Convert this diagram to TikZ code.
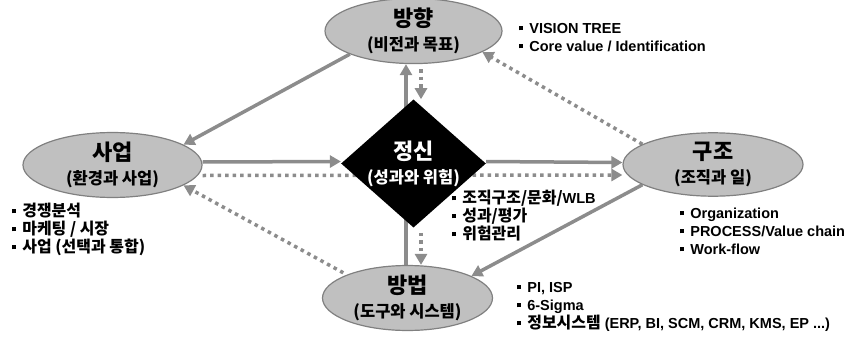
\documentclass[tikz,border=0pt]{standalone}
\usepackage{fontspec}
\setmainfont{Liberation Sans}
\newfontfamily\kr[Scale=1.1]{Noto Sans CJK KR}
\usepackage{tikz}
\usetikzlibrary{arrows.meta,shapes.geometric,backgrounds}
\definecolor{ovalfill}{HTML}{C0C0C0}
\definecolor{ovaledge}{HTML}{808080}
\definecolor{linegray}{HTML}{8C8C8C}
\newcommand{\headtxt}[1]{{\fontsize{20}{22}\selectfont\bfseries #1}}
\newcommand{\subtxt}[1]{{\fontsize{15}{17}\selectfont\bfseries #1}}
\newcommand{\sq}{\rule[0.22em]{0.28em}{0.28em}\hspace{0.42em}}
\newcommand{\tdots}{...}

\begin{document}
\begin{tikzpicture}[
    x=1pt, y=-1pt,
    oval/.style={ellipse, draw=ovaledge, line width=1.2pt, fill=ovalfill, inner sep=0pt,
      minimum height=56pt, align=center, font=\kr\fontsize{15}{24}\selectfont},
    gem/.style={diamond, fill=black, text=white, inner sep=0pt, shape aspect=1.13,
      minimum width=143pt, minimum height=127pt, align=center, font=\kr\fontsize{15}{24}\selectfont},
    listline/.style={anchor=west, inner sep=0pt, font=\bfseries\fontsize{14.5}{18}\selectfont,
      text height=10pt, text depth=3pt},
    solidarr/.style={draw=linegray, line width=3.5pt, -{Triangle[length=11pt,width=12pt]}},
    dotarr/.style={solidarr, dash pattern=on 3.5pt off 4pt}
  ]
  \useasboundingbox (0,0) rectangle (854,340);

  % four ovals and the core
  \foreach \n/\x/\y/\w/\t/\s in {bh/413.5/31/177pt/방향/비전과 목표,
      sa/112.5/165/179pt/사업/환경과 사업,
      gj/713/164.5/180pt/구조/조직과 일,
      bb/407.5/298/170pt/방법/도구와 시스템}
    \node[oval, minimum width=\w] (\n) at (\x,\y) {\headtxt{\t}\\\subtxt{(\s)}};
  \node[gem] (core) at (413.5,163.5) {\headtxt{정신}\\\subtxt{(성과와 위험)}};

  % connectors behind
  \begin{scope}[on background layer]
    \draw[solidarr] (bh.200) -- (sa.16);
    \draw[solidarr] ([yshift=3pt]sa.east) -- ([yshift=2pt]core.west);
    \draw[dotarr] ([yshift=-10.5pt]sa.east) -- ([yshift=-10.5pt]gj.west);
    \draw[solidarr] ([yshift=2pt]core.east) -- ([yshift=2pt]gj.west);
    \draw[dotarr] (gj.164) -- (bh.343);
    \draw[solidarr] (gj.196) -- (bb.19);
    \draw[dotarr, shorten <=4pt] (bb.159) -- (sa.344);
    \draw[solidarr] ([xshift=-1.5pt]bb.north) -- ([xshift=-7.5pt]bh.south);
    \draw[dotarr, shorten <=5pt] ([xshift=7.5pt]bh.south) -- ([xshift=7.5pt]core.north);
    \draw[dotarr, shorten <=5pt] ([xshift=7.5pt]core.south) -- ([xshift=13.5pt]bb.north);
  \end{scope}

  % bullet lists
  \foreach \t [count=\i from 0] in {\sq VISION TREE, \sq Core value / Identification}
    \node[listline] (vis\i) at (519,{30+18*\i}) {\t};
  \foreach \t [count=\i from 0] in {\sq{\kr 경쟁분석}, \sq{\kr 마케팅 / 시장}, \sq{\kr 사업 (선택과 통합)}}
    \node[listline] (biz\i) at (12,{213+18*\i}) {\t};
  \foreach \t [count=\i from 0] in {\sq{\kr 조직구조/문화/}WLB, \sq{\kr 성과/평가}, \sq{\kr 위험관리}}
    \node[listline] (mind\i) at (452,{200+18*\i}) {\t};
  \foreach \t [count=\i from 0] in {\sq Organization, \sq PROCESS/Value chain, \sq Work-flow}
    \node[listline] (org\i) at (680,{215+18*\i}) {\t};
  \foreach \t [count=\i from 0] in {{\sq PI, ISP}, \sq 6-Sigma,
      {\sq{\kr 정보시스템} (ERP, BI, SCM, CRM, KMS, EP \tdots)}}
    \node[listline] (tool\i) at (517,{289+18*\i}) {\t};
\end{tikzpicture}
\end{document}
